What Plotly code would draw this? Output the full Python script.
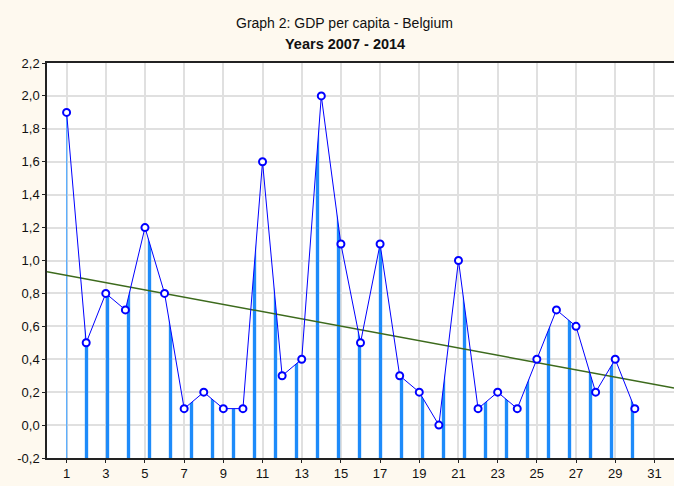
import numpy as np
import plotly.graph_objects as go

# ---- data ----
periods = list(range(1, 31))
gdp_values = [1.9, 0.5, 0.8, 0.7, 1.2, 0.8, 0.1, 0.2, 0.1, 0.1,
              1.6, 0.3, 0.4, 2.0, 1.1, 0.5, 1.1, 0.3, 0.2, 0.0,
              1.0, 0.1, 0.2, 0.1, 0.4, 0.7, 0.6, 0.2, 0.4, 0.1]
x_tickvals = list(range(1, 32, 2))
y_tickvals = [-0.2, 0.0, 0.2, 0.4, 0.6, 0.8, 1.0, 1.2, 1.4, 1.6, 1.8, 2.0, 2.2]
y_ticktext = ["-0,2", "0,0", "0,2", "0,4", "0,6", "0,8", "1,0",
              "1,2", "1,4", "1,6", "1,8", "2,0", "2,2"]
title_main = "Graph 2: GDP per capita - Belgium"
title_sub = "Years 2007 - 2014"

x_range = [0, 32]
y_range = [-0.2, 2.2]

# linear trend (least squares) over the data
slope, intercept = np.polyfit(periods, gdp_values, 1)
trend_x = x_range
trend_y = [intercept + slope * v for v in trend_x]

fig = go.Figure()

# baseline at the bottom of the axis (for the hatched area)
fig.add_trace(go.Scatter(x=periods, y=[y_range[0]] * len(periods), mode="lines",
                         line=dict(width=0), hoverinfo="skip", showlegend=False))
# hatched area under the series (vertical-line pattern)
fig.add_trace(go.Scatter(x=periods, y=gdp_values, mode="lines",
                         line=dict(width=0), fill="tonexty",
                         fillcolor="#1E8BFA",
                         fillpattern=dict(shape="|", size=21, solidity=0.16,
                                          fgcolor="#1E8BFA", fgopacity=1,
                                          bgcolor="rgba(0,0,0,0)"),
                         hoverinfo="skip", showlegend=False))
# left edge of the area
fig.add_trace(go.Scatter(x=[periods[0], periods[0]], y=[y_range[0], gdp_values[0]],
                         mode="lines", line=dict(color="#5AAEFF", width=1),
                         hoverinfo="skip", showlegend=False))
# trend line
fig.add_trace(go.Scatter(x=trend_x, y=trend_y, mode="lines",
                         line=dict(color="#3C6A1C", width=1.5),
                         showlegend=False))
# series line with open markers
fig.add_trace(go.Scatter(x=periods, y=gdp_values, mode="lines+markers",
                         line=dict(color="#0000FF", width=1),
                         marker=dict(symbol="circle", size=7, color="white",
                                     line=dict(color="#0000FF", width=2)),
                         showlegend=False))

fig.update_layout(
    width=674, height=486,
    margin=dict(l=47, r=0, t=63, b=28),
    paper_bgcolor="#FEF9EF",
    plot_bgcolor="white",
    font=dict(family="Liberation Sans, Arial, sans-serif", size=13, color="#111111"),
    showlegend=False,
    annotations=[
        dict(text=title_main, xref="paper", yref="paper", x=0.475, y=1.0, yshift=40,
             xanchor="center", yanchor="middle", showarrow=False,
             font=dict(family="Liberation Sans, Arial", size=14, color="#111111")),
        dict(text="<b>" + title_sub + "</b>", xref="paper", yref="paper", x=0.475, y=1.0, yshift=19,
             xanchor="center", yanchor="middle", showarrow=False,
             font=dict(family="Liberation Sans, Arial", size=14.5, color="#111111")),
    ],
)
fig.update_xaxes(range=x_range, tickvals=x_tickvals, showgrid=True,
                 gridcolor="#E0E0E0", gridwidth=1.5, zeroline=False,
                 showline=True, linecolor="#222222", linewidth=1.5, mirror=True,
                 ticks="outside", ticklen=3, tickcolor="#222222", automargin=False)
fig.update_yaxes(range=y_range, tickvals=y_tickvals, ticktext=y_ticktext, showgrid=True,
                 gridcolor="#E0E0E0", gridwidth=1.5, zeroline=False,
                 showline=True, linecolor="#222222", linewidth=1.5, mirror=True,
                 ticks="outside", ticklen=3, tickcolor="#222222", automargin=False)

post = """
document.body.style.margin = '0';
document.querySelectorAll('pattern').forEach(function (p) {
    p.setAttribute('patternTransform', 'translate(8,0)');
});
"""

fig.write_html("out.html", post_script=post, config={"displayModeBar": False})
